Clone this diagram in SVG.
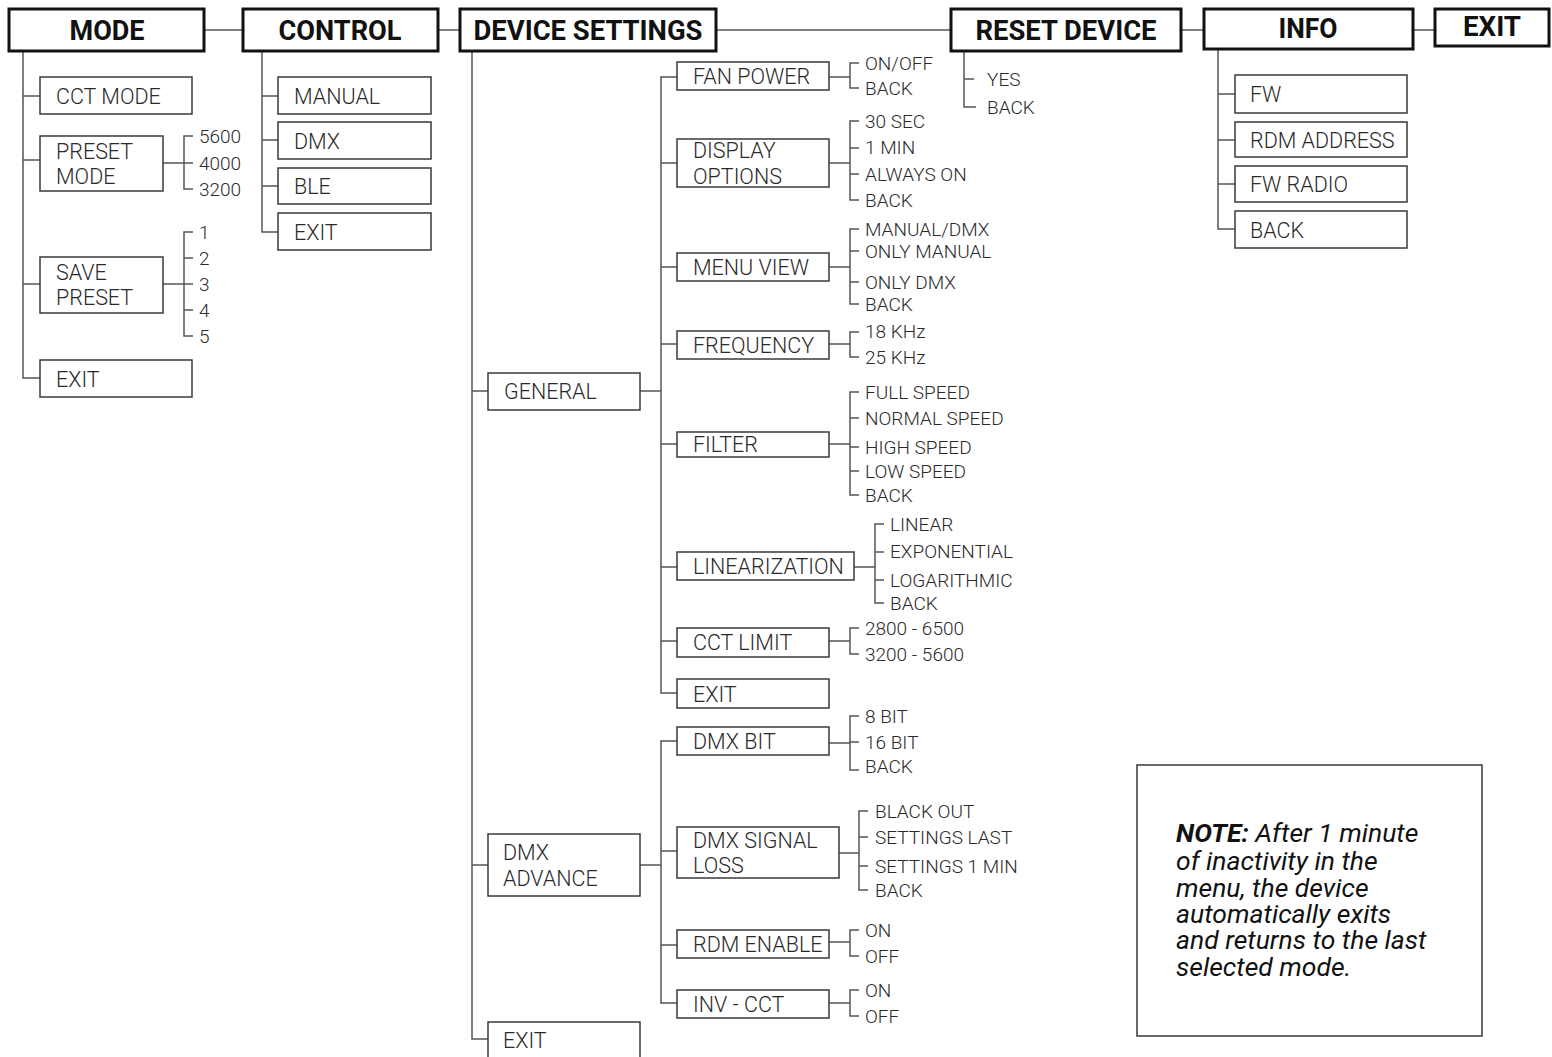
<svg xmlns="http://www.w3.org/2000/svg" width="1552" height="1057" viewBox="0 0 1552 1057">
<style>
.hb{fill:#fff;stroke:#111;stroke-width:3}
.b{fill:#fff;stroke:#3a3a3a;stroke-width:1.5}
.ln{fill:none;stroke:#555;stroke-width:1.5}
.ht{font-family:Roboto,"Liberation Sans",sans-serif;font-weight:700;font-size:27px;fill:#111;text-anchor:middle}
.t{font-family:Roboto,"Liberation Sans",sans-serif;font-weight:300;font-size:21.5px;fill:#2a2a2a}
.s{font-family:Roboto,"Liberation Sans",sans-serif;font-weight:300;font-size:19px;fill:#2a2a2a}
.n{font-family:Roboto,"Liberation Sans",sans-serif;font-style:italic;font-size:26.5px;fill:#111}
</style>
<rect width="1552" height="1057" fill="#fff"/>
<g id="connectors" class="ln">
<path d="M204,30H243M438,30H460M716,30H950M1181,30H1204M1413,30H1435"/>
<path d="M23,51V378H40M23,96H40M23,160H40M23,284H40"/>
<path d="M163,163H193M193,136H184V189H193"/>
<path d="M163,284H193M193,232H184V336H193M184,258H193M184,310H193"/>
<path d="M262,51V232H278M262,96H278M262,140H278M262,186H278"/>
<path d="M472,51V1039H488M472,391H488M472,865H488"/>
<path d="M640,391H661M677,77H661V693H677M661,163H677M661,267H677M661,344H677M661,444H677M661,567H677M661,641H677"/>
<path d="M829,77H850M859,63H850V88H859"/>
<path d="M829,163H850M859,121H850V200H859M850,148H859M850,174H859"/>
<path d="M829,267H850M859,229H850V304H859M850,251H859M850,282H859"/>
<path d="M829,344H850M859,332H850V357H859"/>
<path d="M829,444H850M859,392H850V495H859M850,418H859M850,447H859M850,471H859"/>
<path d="M854,567H875M884,524H875V603H884M875,552H884M875,580H884"/>
<path d="M829,641H850M859,628H850V654H859"/>
<path d="M640,865H661M677,741H661V1003H677M661,851H677M661,945H677"/>
<path d="M829,743H850M859,716H850V770H859M850,742H859"/>
<path d="M839,853H859M868,811H859V890H868M859,837H868M859,866H868"/>
<path d="M829,942H850M859,930H850V956H859"/>
<path d="M829,1003H850M859,990H850V1016H859"/>
<path d="M964,51V107H976M964,79H974"/>
<path d="M1218,49V229H1235M1218,94H1235M1218,140H1235M1218,184H1235"/>
</g>
<g id="mode"><rect class="hb" x="9" y="9" width="195" height="42"/><text class="ht" x="107" y="40" textLength="75" lengthAdjust="spacingAndGlyphs">MODE</text></g>
<g id="control"><rect class="hb" x="243" y="9" width="195" height="42"/><text class="ht" x="340" y="40" textLength="123" lengthAdjust="spacingAndGlyphs">CONTROL</text></g>
<g id="device-settings"><rect class="hb" x="460" y="9" width="256" height="42"/><text class="ht" x="588" y="40" textLength="229" lengthAdjust="spacingAndGlyphs">DEVICE SETTINGS</text></g>
<g id="reset-device"><rect class="hb" x="951" y="9" width="230" height="42"/><text class="ht" x="1066" y="40" textLength="181" lengthAdjust="spacingAndGlyphs">RESET DEVICE</text></g>
<g id="info"><rect class="hb" x="1204" y="9" width="209" height="40"/><text class="ht" x="1308" y="38" textLength="59" lengthAdjust="spacingAndGlyphs">INFO</text></g>
<g id="exit-top"><rect class="hb" x="1435" y="9" width="114" height="37"/><text class="ht" x="1492" y="36" textLength="58" lengthAdjust="spacingAndGlyphs">EXIT</text></g>

<g id="cct-mode"><rect class="b" x="40" y="77" width="152" height="37"/><text class="t" x="56" y="104">CCT MODE</text></g>
<g id="preset-mode"><rect class="b" x="40" y="136" width="123" height="55"/><text class="t" x="56" y="159">PRESET</text><text class="t" x="56" y="184">MODE</text></g>
<g id="preset-opts"><text class="s" x="199" y="143">5600</text><text class="s" x="199" y="170">4000</text><text class="s" x="199" y="196">3200</text></g>
<g id="save-preset"><rect class="b" x="40" y="257" width="123" height="56"/><text class="t" x="56" y="280">SAVE</text><text class="t" x="56" y="305">PRESET</text></g>
<g id="save-opts"><text class="s" x="199" y="239">1</text><text class="s" x="199" y="265">2</text><text class="s" x="199" y="291">3</text><text class="s" x="199" y="317">4</text><text class="s" x="199" y="343">5</text></g>
<g id="mode-exit"><rect class="b" x="40" y="360" width="152" height="37"/><text class="t" x="56" y="387">EXIT</text></g>

<g id="manual"><rect class="b" x="278" y="77" width="153" height="37"/><text class="t" x="294" y="104">MANUAL</text></g>
<g id="dmx"><rect class="b" x="278" y="122" width="153" height="37"/><text class="t" x="294" y="149">DMX</text></g>
<g id="ble"><rect class="b" x="278" y="168" width="153" height="36"/><text class="t" x="294" y="194">BLE</text></g>
<g id="control-exit"><rect class="b" x="278" y="213" width="153" height="37"/><text class="t" x="294" y="240">EXIT</text></g>

<g id="general"><rect class="b" x="488" y="373" width="152" height="37"/><text class="t" x="504" y="399">GENERAL</text></g>
<g id="dmx-advance"><rect class="b" x="488" y="834" width="152" height="62"/><text class="t" x="503" y="860">DMX</text><text class="t" x="503" y="886">ADVANCE</text></g>
<g id="ds-exit"><rect class="b" x="488" y="1022" width="152" height="50"/><text class="t" x="503" y="1048">EXIT</text></g>

<g id="fan-power"><rect class="b" x="677" y="62" width="152" height="28"/><text class="t" x="693" y="84">FAN POWER</text></g>
<g id="fan-opts"><text class="s" x="865" y="70">ON/OFF</text><text class="s" x="865" y="95">BACK</text></g>
<g id="display-options"><rect class="b" x="677" y="139" width="152" height="48"/><text class="t" x="693" y="158">DISPLAY</text><text class="t" x="693" y="184">OPTIONS</text></g>
<g id="display-opts"><text class="s" x="865" y="128">30 SEC</text><text class="s" x="865" y="154">1 MIN</text><text class="s" x="865" y="181">ALWAYS ON</text><text class="s" x="865" y="207">BACK</text></g>
<g id="menu-view"><rect class="b" x="677" y="253" width="152" height="28"/><text class="t" x="693" y="275">MENU VIEW</text></g>
<g id="menu-opts"><text class="s" x="865" y="236">MANUAL/DMX</text><text class="s" x="865" y="258">ONLY MANUAL</text><text class="s" x="865" y="289">ONLY DMX</text><text class="s" x="865" y="311">BACK</text></g>
<g id="frequency"><rect class="b" x="677" y="331" width="152" height="28"/><text class="t" x="693" y="353">FREQUENCY</text></g>
<g id="freq-opts"><text class="s" x="865" y="338">18 KHz</text><text class="s" x="865" y="364">25 KHz</text></g>
<g id="filter"><rect class="b" x="677" y="432" width="152" height="25"/><text class="t" x="693" y="452">FILTER</text></g>
<g id="filter-opts"><text class="s" x="865" y="399">FULL SPEED</text><text class="s" x="865" y="425">NORMAL SPEED</text><text class="s" x="865" y="454">HIGH SPEED</text><text class="s" x="865" y="478">LOW SPEED</text><text class="s" x="865" y="502">BACK</text></g>
<g id="linearization"><rect class="b" x="677" y="552" width="177" height="28"/><text class="t" x="693" y="574">LINEARIZATION</text></g>
<g id="lin-opts"><text class="s" x="890" y="531">LINEAR</text><text class="s" x="890" y="558">EXPONENTIAL</text><text class="s" x="890" y="587">LOGARITHMIC</text><text class="s" x="890" y="610">BACK</text></g>
<g id="cct-limit"><rect class="b" x="677" y="628" width="152" height="29"/><text class="t" x="693" y="650">CCT LIMIT</text></g>
<g id="cct-opts"><text class="s" x="865" y="635">2800 - 6500</text><text class="s" x="865" y="661">3200 - 5600</text></g>
<g id="general-exit"><rect class="b" x="677" y="679" width="152" height="29"/><text class="t" x="693" y="702">EXIT</text></g>

<g id="dmx-bit"><rect class="b" x="677" y="727" width="152" height="28"/><text class="t" x="693" y="749">DMX BIT</text></g>
<g id="dmxbit-opts"><text class="s" x="865" y="723">8 BIT</text><text class="s" x="865" y="749">16 BIT</text><text class="s" x="865" y="773">BACK</text></g>
<g id="dmx-signal-loss"><rect class="b" x="677" y="827" width="162" height="51"/><text class="t" x="693" y="848">DMX SIGNAL</text><text class="t" x="693" y="873">LOSS</text></g>
<g id="signal-opts"><text class="s" x="875" y="818">BLACK OUT</text><text class="s" x="875" y="844">SETTINGS LAST</text><text class="s" x="875" y="873">SETTINGS 1 MIN</text><text class="s" x="875" y="897">BACK</text></g>
<g id="rdm-enable"><rect class="b" x="677" y="930" width="152" height="28"/><text class="t" x="693" y="952">RDM ENABLE</text></g>
<g id="rdm-opts"><text class="s" x="865" y="937">ON</text><text class="s" x="865" y="963">OFF</text></g>
<g id="inv-cct"><rect class="b" x="677" y="990" width="152" height="28"/><text class="t" x="693" y="1012">INV - CCT</text></g>
<g id="inv-opts"><text class="s" x="865" y="997">ON</text><text class="s" x="865" y="1023">OFF</text></g>

<g id="reset-opts"><text class="s" x="987" y="86">YES</text><text class="s" x="987" y="114">BACK</text></g>

<g id="fw"><rect class="b" x="1235" y="75" width="172" height="38"/><text class="t" x="1250" y="102">FW</text></g>
<g id="rdm-address"><rect class="b" x="1235" y="122" width="172" height="35"/><text class="t" x="1250" y="148">RDM ADDRESS</text></g>
<g id="fw-radio"><rect class="b" x="1235" y="166" width="172" height="36"/><text class="t" x="1250" y="192">FW RADIO</text></g>
<g id="info-back"><rect class="b" x="1235" y="211" width="172" height="37"/><text class="t" x="1250" y="238">BACK</text></g>

<g id="note"><rect class="b" x="1137" y="765" width="345" height="271"/>
<text class="n" x="1176" y="842"><tspan font-weight="700">NOTE:</tspan> After 1 minute</text>
<text class="n" x="1176" y="870">of inactivity in the</text>
<text class="n" x="1176" y="897">menu, the device</text>
<text class="n" x="1176" y="923">automatically exits</text>
<text class="n" x="1176" y="949">and returns to the last</text>
<text class="n" x="1176" y="976">selected mode.</text>
</g>
</svg>
